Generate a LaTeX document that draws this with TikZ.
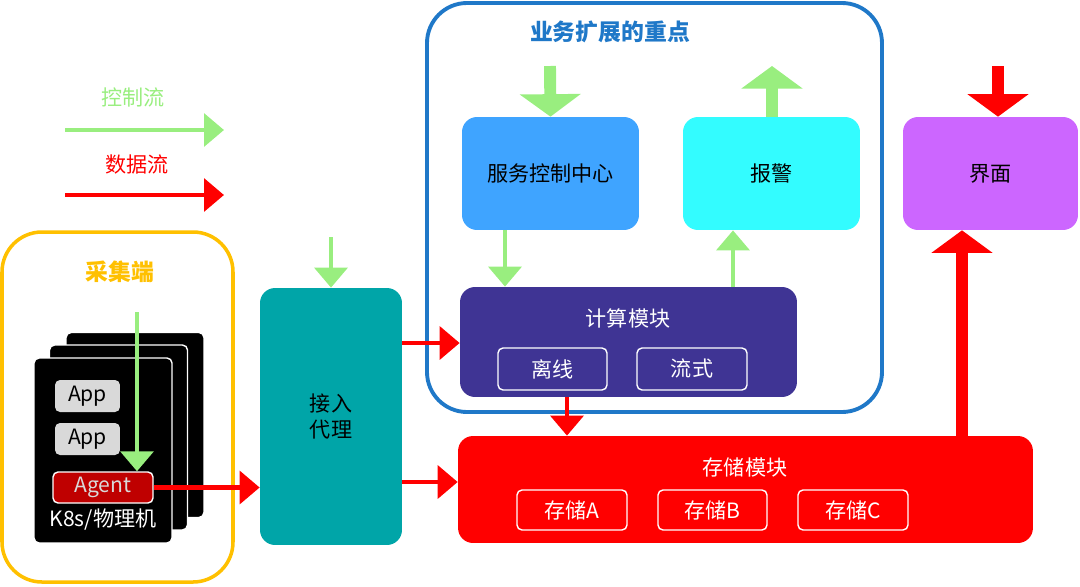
\documentclass[tikz,border=0pt]{standalone}
\usepackage{fontspec}
\setmainfont{Noto Sans CJK SC}
\usetikzlibrary{arrows.meta}
\definecolor{ctrlgreen}{HTML}{99EE7F}
\definecolor{datared}{HTML}{FF0000}
\definecolor{frameblue}{HTML}{1F78C8}
\definecolor{collectorange}{HTML}{FFC000}
\definecolor{proxyteal}{HTML}{00A5A8}
\definecolor{centerblue}{HTML}{3FA4FF}
\definecolor{alarmcyan}{HTML}{33FCFF}
\definecolor{computepurple}{HTML}{3F3494}
\definecolor{uipurple}{HTML}{CC66FF}

\begin{document}
\begin{tikzpicture}[
		x=0.02cm, y=-0.02cm,
		box/.style={rectangle,rounded corners=3mm,draw=none,inner sep=0pt,
		font=\fontsize{12}{15}\selectfont,align=center},
		sub/.style={rectangle,rounded corners=1mm,draw=white,thick,
		inner sep=0pt,text=white,font=\fontsize{12}{15}\selectfont},
		card/.style={rectangle,rounded corners=1mm,fill=black,draw=white,thick,
		minimum width=2.76cm,minimum height=3.7cm,inner sep=0pt},
		ctrl/.style={draw=ctrlgreen,line width=2.8pt,-{Triangle[length=4mm,width=6.5mm]}},
		data/.style={draw=datared,line width=2.8pt,-{Triangle[length=4mm,width=6.5mm]}},
		fatctrl/.style={draw=ctrlgreen,line width=6.8pt,-{Triangle[length=4.5mm,width=12mm]}},
		fatdata/.style={draw=datared,line width=6.8pt,-{Triangle[length=4.5mm,width=12mm]}}
		]
		\useasboundingbox (0,0) rectangle (1080,586);
		% legend
		\node[text=ctrlgreen,font=\fontsize{12}{15}\selectfont] (lctrl) at (133,97) {控制流};
		\coordinate (lc1) at (65,130); \coordinate (lc2) at (224,130);
		\draw[ctrl] (lc1) -- (lc2);
		\node[text=datared,font=\fontsize{12}{15}\selectfont] (ldata) at (137,165) {数据流};
		\coordinate (ld1) at (65,195); \coordinate (ld2) at (224,195);
		\draw[data] (ld1) -- (ld2);
		% collector
		\draw[collectorange,line width=2pt,rounded corners=8mm] (2,232) rectangle (233,582);
		\node[text=collectorange,font=\bfseries\fontsize{13}{15}\selectfont] (ctitle) at (120,272) {采集端};
		\node[card] (card3) at (135,425) {};
		\node[card] (card2) at (118.5,437.5) {};
		\node[card] (card1) at (103,450.5) {};
		\node[box,rounded corners=1mm,fill=black!15,minimum width=1.3cm,minimum height=0.64cm] (app1) at (87.5,396) {App};
		\node[box,rounded corners=1mm,fill=black!15,minimum width=1.3cm,minimum height=0.64cm] (app2) at (87.5,439) {App};
		\node[sub,fill=red!75!black,text=black!15,minimum width=2cm,minimum height=0.62cm] (agent) at (103,487.5) {Agent};
		\node[text=white,font=\fontsize{12}{15}\selectfont] (k8s) at (103,520) {K8s/物理机};
		\coordinate (cin) at (137,312);
		\draw[ctrl] (cin) -- (agent.north -| cin);
		% proxy
		\node[box,fill=proxyteal,minimum width=2.84cm,minimum height=5.14cm] (proxy) at (331,416.5) {接入\\代理};
		\coordinate (pin) at (331,237);
		\draw[ctrl] (pin) -- (proxy.north);
		\draw[data] (agent.east) -- (proxy.west |- agent.east);
		% focus frame
		\draw[frameblue,line width=2.2pt,rounded corners=8mm] (427,3) rectangle (882,412);
		\node[text=frameblue,font=\bfseries\fontsize{13}{15}\selectfont] (ftitle) at (610,32) {业务扩展的重点};
		\node[box,fill=centerblue,minimum width=3.54cm,minimum height=2.26cm] (center) at (550.5,173.5) {服务控制中心};
		\node[box,fill=alarmcyan,minimum width=3.54cm,minimum height=2.26cm] (alarm) at (771.5,173.5) {报警};
		\node[box,fill=computepurple,minimum width=6.74cm,minimum height=2.2cm] (compute) at (628.5,342) {};
		\node[text=white,font=\fontsize{12}{15}\selectfont] (ctext) at (628,318) {计算模块};
		\node[sub,minimum width=2.18cm,minimum height=0.84cm] (offline) at (552.5,369) {离线};
		\node[sub,minimum width=2.2cm,minimum height=0.84cm] (stream) at (692,369) {流式};
		\coordinate (cen1) at (550,66);
		\draw[fatctrl] (cen1) -- (center.north);
		\coordinate (al1) at (772,66);
		\draw[fatctrl] (alarm.north -| al1) -- (al1);
		\draw[ctrl] (center.south -| 505,0) -- (compute.north -| 505,0);
		\draw[ctrl] (compute.north -| 733,0) -- (alarm.south -| 733,0);
		% storage
		\node[box,fill=datared,minimum width=11.5cm,minimum height=2.14cm] (store) at (745.5,489.5) {};
		\node[text=white,font=\fontsize{12}{15}\selectfont] (stext) at (745,467) {存储模块};
		\node[sub,minimum width=2.2cm,minimum height=0.8cm] (sa) at (572,510) {存储A};
		\node[sub,minimum width=2.18cm,minimum height=0.8cm] (sb) at (712.5,510) {存储B};
		\node[sub,minimum width=2.2cm,minimum height=0.8cm] (sc) at (853,510) {存储C};
		\draw[data] (compute.south -| 567,0) -- (store.north -| 567,0);
		\draw[data] (proxy.east |- 0,343) -- (compute.west |- 0,343);
		\draw[data] (proxy.east |- 0,482) -- (store.west |- 0,482);
		% ui
		\node[box,fill=uipurple,minimum width=3.5cm,minimum height=2.26cm] (ui) at (990.5,173.5) {界面};
		\coordinate (ui1) at (998,66);
		\draw[fatdata] (ui1) -- (ui.north -| ui1);
		\draw[fatdata] (store.north -| 962,0) -- (ui.south -| 962,0);
	\end{tikzpicture}
\end{document}
